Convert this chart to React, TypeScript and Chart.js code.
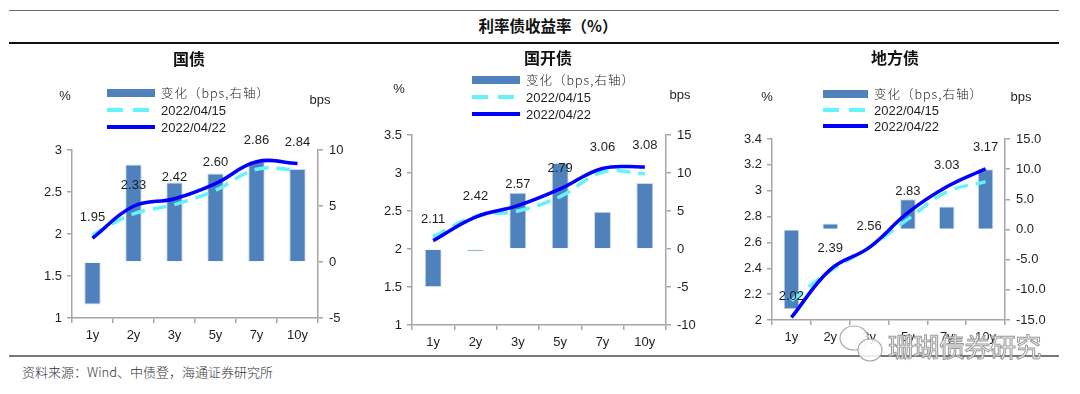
import React, { useEffect, useRef } from 'react';
import { Chart, registerables } from 'chart.js';

Chart.register(...registerables);

// ---------- data ----------
const CATEGORIES = ['1y', '2y', '3y', '5y', '7y', '10y'];
const SERIES_NAMES = ['变化（bps,右轴）', '2022/04/15', '2022/04/22'];

// 国债
const GOV_CHANGE = [-3.8, 8.7, 7.1, 7.9, 9.0, 8.3];
const GOV_0415 = [1.99, 2.24, 2.35, 2.52, 2.77, 2.76];
const GOV_0422 = [1.95, 2.33, 2.42, 2.6, 2.86, 2.84];
const GOV_LEFT_TICKS = [1, 1.5, 2, 2.5, 3];
const GOV_RIGHT_TICKS = [-5, 0, 5, 10];

// 国开债
const CDB_CHANGE = [-5.0, -0.3, 7.4, 11.3, 4.9, 8.7];
const CDB_0415 = [2.16, 2.43, 2.5, 2.69, 3.01, 2.99];
const CDB_0422 = [2.11, 2.42, 2.57, 2.79, 3.06, 3.08];
const CDB_LEFT_TICKS = [1, 1.5, 2, 2.5, 3, 3.5];
const CDB_RIGHT_TICKS = [-10, -5, 0, 5, 10, 15];

// 地方债
const LOCAL_CHANGE = [-13.2, 1.0, 0, 5.0, 3.8, 10.0];
const LOCAL_0415 = [2.15, 2.38, 2.56, 2.78, 2.99, 3.07];
const LOCAL_0422 = [2.02, 2.39, 2.56, 2.83, 3.03, 3.17];
const LOCAL_LEFT_TICKS = [2, 2.2, 2.4, 2.6, 2.8, 3, 3.2, 3.4];
const LOCAL_RIGHT_TICKS = [-15, -10, -5, 0, 5, 10, 15];

const MAIN_TITLE = '利率债收益率（%）';
const PANEL_TITLES = ['国债', '国开债', '地方债'];
const SOURCE = '资料来源：Wind、中债登，海通证券研究所';
const WATERMARK = '珊瑚债券研究';

// ---------- styles ----------
const BAR_COLOR = '#4F81BD';
const CYAN = '#62F4FA';
const BLUE = '#0000FF';
const AXIS_COLOR = '#A6A6A6';
const TEXT_COLOR = '#1f1f1f';
const FONT = '"Liberation Sans", Arial, sans-serif';
const CJK = '"Noto Sans CJK SC", "Noto Sans", sans-serif';

const fmtPlain = (v: number) => String(Math.round(v * 100) / 100);
const fmtOne = (v: number) => (Math.round(v * 10) / 10).toFixed(1);

const labelPlugin = {
  id: 'pointLabels',
  afterDatasetsDraw(chart: any) {
    const ctx = chart.ctx;
    chart.data.datasets.forEach((ds: any, i: number) => {
      if (!ds.showValues) return;
      const meta = chart.getDatasetMeta(i);
      ctx.save();
      ctx.font = `13px ${FONT}`;
      ctx.fillStyle = TEXT_COLOR;
      ctx.textAlign = 'center';
      ctx.textBaseline = 'middle';
      meta.data.forEach((pt: any, j: number) => {
        ctx.fillText(Number(ds.data[j]).toFixed(2), pt.x, pt.y - 21);
      });
      ctx.restore();
    });
  },
};

type Spec = {
  canvasLeft: number;
  plotLeft: number;
  plotRight: number;
  plotTop: number;
  plotBottom: number;
  change: number[];
  prev: number[];
  now: number[];
  leftTicks: number[];
  rightTicks: number[];
  rightFmt: (v: number) => string;
};

const CANVAS_TOP = 40;
const CANVAS_W = 360;
const CANVAS_H = 320;

function Panel({ spec }: { spec: Spec }) {
  const ref = useRef<HTMLCanvasElement | null>(null);
  useEffect(() => {
    if (!ref.current) return;
    const leftW = spec.plotLeft - spec.canvasLeft;
    const rightW = spec.canvasLeft + CANVAS_W - spec.plotRight;
    const topPad = spec.plotTop - CANVAS_TOP;
    const xH = CANVAS_TOP + CANVAS_H - spec.plotBottom;
    const gridCommon = {
      drawOnChartArea: false,
      drawTicks: true,
      tickLength: 5,
      color: AXIS_COLOR,
      lineWidth: 1.5,
    };
    const border = { display: true, color: AXIS_COLOR, width: 1.5 };
    const tickFont = { family: FONT, size: 13 };
    const chart = new Chart(ref.current, {
      type: 'bar',
      data: {
        labels: CATEGORIES,
        datasets: [
          {
            type: 'line',
            label: SERIES_NAMES[2],
            data: spec.now,
            yAxisID: 'y',
            borderColor: BLUE,
            backgroundColor: BLUE,
            borderWidth: 3.5,
            pointRadius: 0,
            tension: 0.4,
            fill: false,
            order: 1,
            showValues: true,
          } as any,
          {
            type: 'line',
            label: SERIES_NAMES[1],
            data: spec.prev,
            yAxisID: 'y',
            borderColor: CYAN,
            backgroundColor: CYAN,
            borderWidth: 3.5,
            borderDash: [14, 8],
            pointRadius: 0,
            tension: 0.4,
            fill: false,
            order: 2,
          },
          {
            type: 'bar',
            label: SERIES_NAMES[0],
            data: spec.change,
            yAxisID: 'y1',
            backgroundColor: BAR_COLOR,
            borderColor: 'rgba(200,215,235,0.9)',
            borderWidth: 1,
            barPercentage: 0.4,
            categoryPercentage: 1,
            order: 3,
          },
        ],
      },
      options: {
        responsive: false,
        animation: false,
        layout: { padding: { top: topPad, left: 0, right: 0, bottom: 0 } },
        plugins: { legend: { display: false }, tooltip: { enabled: false } },
        scales: {
          x: {
            grid: { ...gridCommon, offset: true },
            border,
            ticks: { font: tickFont, color: TEXT_COLOR, padding: 5, maxRotation: 0 },
            afterFit: (s: any) => {
              s.height = xH;
            },
          },
          y: {
            position: 'left',
            min: spec.leftTicks[0],
            max: spec.leftTicks[spec.leftTicks.length - 1],
            afterBuildTicks: (s: any) => {
              s.ticks = spec.leftTicks.map((v) => ({ value: v }));
            },
            grid: gridCommon,
            border,
            ticks: {
              font: tickFont,
              color: TEXT_COLOR,
              padding: 5,
              callback: (v: any) => fmtPlain(Number(v)),
            },
            afterFit: (s: any) => {
              s.width = leftW;
            },
          },
          y1: {
            position: 'right',
            min: spec.rightTicks[0],
            max: spec.rightTicks[spec.rightTicks.length - 1],
            afterBuildTicks: (s: any) => {
              s.ticks = spec.rightTicks.map((v) => ({ value: v }));
            },
            grid: gridCommon,
            border,
            ticks: {
              font: tickFont,
              color: TEXT_COLOR,
              padding: 6,
              callback: (v: any) => spec.rightFmt(Number(v)),
            },
            afterFit: (s: any) => {
              s.width = rightW;
            },
          },
        },
      } as any,
      plugins: [labelPlugin],
    });
    return () => chart.destroy();
  }, [spec]);
  return (
    <canvas
      ref={ref}
      width={CANVAS_W}
      height={CANVAS_H}
      style={{
        position: 'absolute',
        left: spec.canvasLeft,
        top: CANVAS_TOP,
        width: CANVAS_W,
        height: CANVAS_H,
      }}
    />
  );
}

const SPECS: Spec[] = [
  {
    canvasLeft: 0,
    plotLeft: 72,
    plotRight: 318,
    plotTop: 150,
    plotBottom: 318,
    change: GOV_CHANGE,
    prev: GOV_0415,
    now: GOV_0422,
    leftTicks: GOV_LEFT_TICKS,
    rightTicks: GOV_RIGHT_TICKS,
    rightFmt: fmtPlain,
  },
  {
    canvasLeft: 360,
    plotLeft: 412,
    plotRight: 666,
    plotTop: 135,
    plotBottom: 325,
    change: CDB_CHANGE,
    prev: CDB_0415,
    now: CDB_0422,
    leftTicks: CDB_LEFT_TICKS,
    rightTicks: CDB_RIGHT_TICKS,
    rightFmt: fmtPlain,
  },
  {
    canvasLeft: 720,
    plotLeft: 772,
    plotRight: 1005,
    plotTop: 139,
    plotBottom: 320,
    change: LOCAL_CHANGE,
    prev: LOCAL_0415,
    now: LOCAL_0422,
    leftTicks: LOCAL_LEFT_TICKS,
    rightTicks: LOCAL_RIGHT_TICKS,
    rightFmt: fmtOne,
  },
];

// decorations: legend / title / unit positions per panel
const DECOR = [
  { title: [189, 58], legendX: 107, legendW: 48, legendY: [93, 110, 127], pct: [65, 95], bps: [320, 99] },
  { title: [548, 57], legendX: 472, legendW: 48, legendY: [80, 97, 114], pct: [399, 88], bps: [680, 94] },
  { title: [895, 57], legendX: 823, legendW: 45, legendY: [94, 110, 126], pct: [767, 96], bps: [1021, 96] },
];

const abs = (x: number, y: number, extra: React.CSSProperties = {}): React.CSSProperties => ({
  position: 'absolute',
  left: x,
  top: y,
  transform: 'translate(-50%, -50%)',
  whiteSpace: 'nowrap',
  lineHeight: 1,
  ...extra,
});

function Legend({ d }: { d: (typeof DECOR)[number] }) {
  const textStyle: React.CSSProperties = {
    position: 'absolute',
    left: d.legendX + d.legendW + 6,
    transform: 'translateY(-50%)',
    whiteSpace: 'nowrap',
    lineHeight: 1,
    fontSize: 13,
    color: TEXT_COLOR,
  };
  return (
    <>
      <div
        style={{
          position: 'absolute',
          left: d.legendX,
          top: d.legendY[0] - 4,
          width: d.legendW,
          height: 8,
          background: BAR_COLOR,
        }}
      />
      <div style={{ ...textStyle, top: d.legendY[0], fontFamily: CJK, fontWeight: 300, fontSize: 12.5, letterSpacing: 1 }}>
        {SERIES_NAMES[0]}
      </div>
      <svg
        style={{ position: 'absolute', left: d.legendX, top: d.legendY[1] - 3 }}
        width={d.legendW}
        height={6}
      >
        <line x1={0} y1={3} x2={d.legendW} y2={3} stroke={CYAN} strokeWidth={4} strokeDasharray="16 10" />
      </svg>
      <div style={{ ...textStyle, top: d.legendY[1], fontFamily: FONT }}>{SERIES_NAMES[1]}</div>
      <svg
        style={{ position: 'absolute', left: d.legendX, top: d.legendY[2] - 3 }}
        width={d.legendW}
        height={6}
      >
        <line x1={0} y1={3} x2={d.legendW} y2={3} stroke={BLUE} strokeWidth={4} strokeLinecap="round" />
      </svg>
      <div style={{ ...textStyle, top: d.legendY[2], fontFamily: FONT }}>{SERIES_NAMES[2]}</div>
    </>
  );
}

export default function App() {
  return (
    <div
      style={{
        position: 'fixed',
        left: 0,
        top: 0,
        width: 1080,
        height: 394,
        background: '#fff',
        overflow: 'hidden',
        fontFamily: FONT,
      }}
    >
      <div style={{ position: 'absolute', left: 9, top: 10, width: 1050, height: 1, background: '#6b6b6b' }} />
      <div style={{ position: 'absolute', left: 9, top: 42, width: 1050, height: 1.5, background: '#111' }} />
      <div
        style={abs(548, 26, {
          fontFamily: CJK,
          fontWeight: 700,
          fontSize: 15.5,
          color: '#111',
        })}
      >
        {MAIN_TITLE}
      </div>

      {SPECS.map((s, i) => (
        <Panel key={i} spec={s} />
      ))}

      {DECOR.map((d, i) => (
        <React.Fragment key={i}>
          <div style={abs(d.title[0], d.title[1], { fontFamily: CJK, fontWeight: 700, fontSize: 16, color: '#111' })}>
            {PANEL_TITLES[i]}
          </div>
          <div style={abs(d.pct[0], d.pct[1], { fontSize: 13, color: TEXT_COLOR })}>%</div>
          <div style={abs(d.bps[0], d.bps[1], { fontSize: 13, color: TEXT_COLOR })}>bps</div>
          <Legend d={d} />
        </React.Fragment>
      ))}

      <div style={{ position: 'absolute', left: 9, top: 355, width: 1050, height: 1.5, background: '#777' }} />
      <div
        style={{
          position: 'absolute',
          left: 22,
          top: 371,
          transform: 'translateY(-50%)',
          fontFamily: CJK,
          fontWeight: 300,
          fontSize: 13,
          color: '#333',
          whiteSpace: 'nowrap',
          lineHeight: 1,
        }}
      >
        {SOURCE}
      </div>

      {/* watermark */}
      <svg style={{ position: 'absolute', left: 836, top: 322 }} width={50} height={44}>
        <ellipse cx={18} cy={16} rx={14} ry={12} fill="rgba(255,255,255,0.85)" stroke="#aaa" strokeWidth={1.2} />
        <ellipse cx={34} cy={28} rx={12} ry={11} fill="rgba(255,255,255,0.85)" stroke="#aaa" strokeWidth={1.2} />
      </svg>
      <div
        style={{
          position: 'absolute',
          left: 888,
          top: 346,
          transform: 'translateY(-50%)',
          fontFamily: CJK,
          fontSize: 26,
          color: 'rgba(255,255,255,0.85)',
          WebkitTextStroke: '1px #999',
          whiteSpace: 'nowrap',
          lineHeight: 1,
          letterSpacing: -0.5,
        }}
      >
        {WATERMARK}
      </div>
    </div>
  );
}
